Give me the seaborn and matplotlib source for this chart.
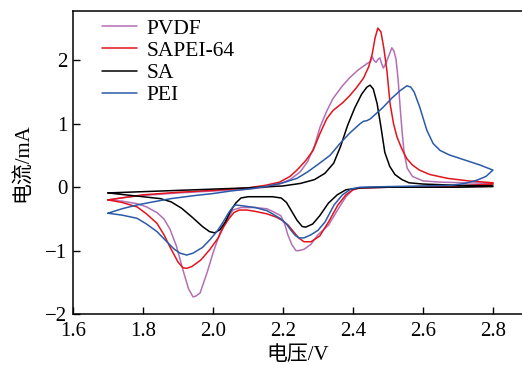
import numpy as np
import pandas as pd
import matplotlib
matplotlib.use("Agg")
import matplotlib.pyplot as plt
import seaborn as sns

# CV loops: start at 1.7 V, anodic sweep to 2.8 V, cathodic sweep back
pvdf_v = [1.70, 1.75, 1.80, 1.90, 2.00, 2.10, 2.15, 2.19, 2.22, 2.249, 2.27, 2.29, 2.306, 2.325, 2.343,
          2.37, 2.391, 2.415, 2.44, 2.45, 2.455, 2.46, 2.466, 2.472, 2.477, 2.483, 2.487, 2.495, 2.503,
          2.511, 2.517, 2.523, 2.529, 2.534, 2.54, 2.546, 2.555, 2.57, 2.60, 2.65, 2.72, 2.80,
          2.80, 2.70, 2.60, 2.50, 2.42, 2.40, 2.38, 2.357, 2.33, 2.30, 2.28, 2.26, 2.245, 2.237, 2.225,
          2.214, 2.205, 2.194, 2.17, 2.154, 2.12, 2.08, 2.057, 2.04, 2.02, 2.00, 1.983, 1.963, 1.95,
          1.943, 1.93, 1.914, 1.895, 1.877, 1.86, 1.84, 1.81, 1.783, 1.74, 1.70]
pvdf_i = [-0.20, -0.16, -0.13, -0.09, -0.06, -0.03, 0.00, 0.05, 0.12, 0.24, 0.40, 0.65, 0.95, 1.20, 1.40,
          1.60, 1.73, 1.85, 1.95, 1.98, 2.06, 2.00, 1.97, 2.02, 2.04, 1.93, 1.88, 1.97, 2.08,
          2.20, 2.15, 2.02, 1.70, 1.32, 0.90, 0.55, 0.30, 0.17, 0.10, 0.08, 0.07, 0.06,
          0.05, 0.02, 0.01, 0.00, -0.01, -0.04, -0.15, -0.35, -0.60, -0.75, -0.90, -0.98, -1.00, -1.00, -0.90,
          -0.75, -0.58, -0.45, -0.38, -0.34, -0.32, -0.32, -0.36, -0.52, -0.72, -1.04, -1.35, -1.67, -1.72,
          -1.73, -1.60, -1.30, -0.92, -0.66, -0.50, -0.40, -0.31, -0.26, -0.22, -0.20]

sapei_v = [1.70, 1.75, 1.80, 1.90, 2.00, 2.10, 2.15, 2.19, 2.22, 2.24, 2.265, 2.286, 2.306, 2.325, 2.343,
           2.37, 2.39, 2.41, 2.43, 2.445, 2.455, 2.463, 2.471, 2.48, 2.488, 2.497, 2.506, 2.516, 2.526,
           2.54, 2.554, 2.57, 2.59, 2.62, 2.67, 2.73, 2.80,
           2.80, 2.70, 2.60, 2.50, 2.42, 2.40, 2.38, 2.357, 2.33, 2.305, 2.28, 2.26, 2.245, 2.23, 2.215,
           2.20, 2.18, 2.154, 2.12, 2.097, 2.075, 2.06, 2.045, 2.03, 2.015, 1.99, 1.965, 1.94, 1.925,
           1.914, 1.90, 1.877, 1.86, 1.84, 1.81, 1.783, 1.74, 1.70]
sapei_i = [-0.20, -0.16, -0.12, -0.08, -0.05, -0.01, 0.03, 0.08, 0.17, 0.27, 0.42, 0.58, 0.85, 1.08, 1.21,
           1.33, 1.44, 1.57, 1.72, 1.90, 2.10, 2.35, 2.51, 2.45, 2.20, 1.84, 1.32, 1.00, 0.79,
           0.60, 0.45, 0.35, 0.27, 0.20, 0.14, 0.10, 0.07,
           0.05, 0.02, 0.01, 0.00, -0.01, -0.04, -0.12, -0.28, -0.55, -0.77, -0.86, -0.86, -0.80, -0.70, -0.60,
           -0.53, -0.47, -0.42, -0.38, -0.36, -0.36, -0.40, -0.50, -0.63, -0.80, -0.99, -1.15, -1.25, -1.28,
           -1.27, -1.18, -0.94, -0.75, -0.57, -0.42, -0.31, -0.24, -0.20]

sa_v = [1.70, 1.80, 1.90, 2.00, 2.10, 2.20, 2.25, 2.29, 2.32, 2.345, 2.365, 2.385, 2.405, 2.425, 2.44,
        2.449, 2.458, 2.469, 2.48, 2.491, 2.505, 2.52, 2.54, 2.56, 2.60, 2.70, 2.80,
        2.80, 2.70, 2.60, 2.50, 2.42, 2.38, 2.355, 2.33, 2.305, 2.285, 2.265, 2.255, 2.24, 2.225, 2.21,
        2.195, 2.17, 2.13, 2.10, 2.08, 2.065, 2.05, 2.035, 2.02, 2.005, 1.99, 1.97, 1.94, 1.91, 1.88,
        1.85, 1.80, 1.75, 1.70]
sa_i = [-0.09, -0.07, -0.05, -0.03, -0.01, 0.02, 0.06, 0.12, 0.22, 0.38, 0.65, 0.98, 1.25, 1.47, 1.58,
        1.61, 1.55, 1.32, 0.95, 0.55, 0.33, 0.20, 0.12, 0.07, 0.05, 0.03, 0.02,
        0.01, 0.00, 0.00, 0.00, -0.01, -0.04, -0.12, -0.25, -0.45, -0.58, -0.63, -0.62, -0.52, -0.38, -0.24,
        -0.17, -0.15, -0.15, -0.15, -0.17, -0.25, -0.38, -0.55, -0.67, -0.72, -0.70, -0.62, -0.47, -0.33, -0.23,
        -0.18, -0.15, -0.12, -0.09]

pei_v = [1.70, 1.74, 1.783, 1.83, 1.88, 1.95, 2.00, 2.05, 2.10, 2.15, 2.20, 2.24, 2.27, 2.30, 2.334,
         2.363, 2.39, 2.42, 2.43, 2.44, 2.45, 2.486, 2.51, 2.534, 2.554, 2.565, 2.575, 2.591, 2.611,
         2.629, 2.649, 2.675, 2.697, 2.73, 2.763, 2.80,
         2.78, 2.754, 2.72, 2.68, 2.60, 2.50, 2.42, 2.394, 2.37, 2.346, 2.32, 2.30, 2.28, 2.26, 2.246,
         2.235, 2.223, 2.21, 2.194, 2.17, 2.154, 2.12, 2.08, 2.065, 2.057, 2.045, 2.029, 2.011, 1.991,
         1.97, 1.943, 1.925, 1.906, 1.89, 1.877, 1.84, 1.81, 1.783, 1.74, 1.70]
pei_i = [-0.41, -0.34, -0.28, -0.23, -0.18, -0.13, -0.10, -0.06, -0.03, 0.01, 0.07, 0.14, 0.24, 0.36, 0.50,
         0.69, 0.85, 1.00, 1.04, 1.05, 1.08, 1.26, 1.40, 1.52, 1.60, 1.58, 1.50, 1.26, 0.90,
         0.69, 0.58, 0.51, 0.47, 0.41, 0.35, 0.27,
         0.17, 0.11, 0.06, 0.03, 0.02, 0.01, 0.00, -0.03, -0.12, -0.28, -0.55, -0.68, -0.75, -0.80, -0.80,
         -0.76, -0.68, -0.58, -0.50, -0.42, -0.37, -0.32, -0.29, -0.28, -0.31, -0.40, -0.55, -0.70, -0.83,
         -0.95, -1.04, -1.07, -1.04, -0.98, -0.91, -0.70, -0.58, -0.49, -0.44, -0.41]

names = ["PVDF", "SAPEI-64", "SA", "PEI"]
colors = ["#b46fb4", "#e3141e", "#000000", "#2a5aa8"]

frames = []
for name, v, i in zip(names, [pvdf_v, sapei_v, sa_v, pei_v], [pvdf_i, sapei_i, sa_i, pei_i]):
    frames.append(pd.DataFrame({"voltage": v, "current": i, "sample": name}))
df = pd.concat(frames, ignore_index=True)

sns.set_style("ticks", {"axes.edgecolor": "black", "xtick.color": "black", "ytick.color": "black",
                        "text.color": "black", "axes.labelcolor": "black"})
plt.rcParams['font.family'] = ['Liberation Serif', 'Noto Sans CJK SC']
plt.rcParams['axes.unicode_minus'] = True

fig = plt.figure(figsize=(5.22, 3.65), dpi=100)
ax = fig.add_axes([0.1398, 0.1397, 0.8602, 0.8302])

sns.lineplot(data=df, x="voltage", y="current", hue="sample", hue_order=names,
             palette=dict(zip(names, colors)), sort=False, estimator=None,
             linewidth=1.1, ax=ax)

ax.set_xlim(1.6, 2.883)
ax.set_ylim(-2, 2.78)
ax.set_xticks([1.6, 1.8, 2.0, 2.2, 2.4, 2.6, 2.8])
ax.set_xticklabels(["1.6", "1.8", "2.0", "2.2", "2.4", "2.6", "2.8"])
ax.set_yticks([-2, -1, 0, 1, 2])
ax.set_yticklabels(["\u22122", "\u22121", "0", "1", "2"])
ax.tick_params(direction="in", length=5, width=1, labelsize=15, colors="black")
ax.tick_params(axis="x", pad=6)
ax.tick_params(axis="y", pad=4)
for s in ["left", "bottom", "top"]:
    ax.spines[s].set_linewidth(1.1)
    ax.spines[s].set_color("black")
ax.spines["right"].set_visible(False)

ax.set_xlabel("电压/V", fontsize=15, labelpad=3)
ax.set_ylabel("电流/mA", fontsize=15, labelpad=9)

ax.legend(loc="upper left", bbox_to_anchor=(0.065, 0.975), frameon=False, fontsize=15.5,
          handlelength=1.6, handletextpad=0.45, labelspacing=0.1, borderpad=0, borderaxespad=0)

plt.savefig("out.png", dpi=100)
